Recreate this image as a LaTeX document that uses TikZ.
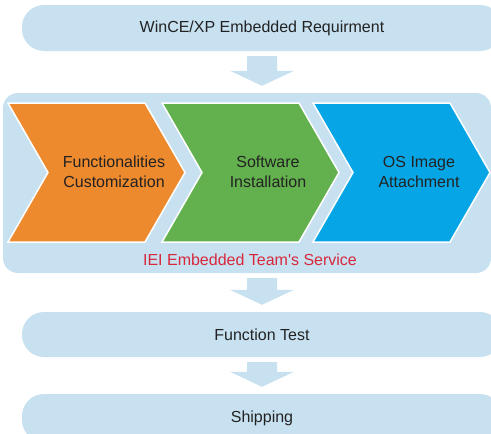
\documentclass[tikz,border=0pt]{standalone}
\usepackage{fontspec}
\setmainfont{Liberation Sans}
\usepackage{tikz}
\usetikzlibrary{calc}

\definecolor{paleblue}{HTML}{C7E1F1}
\definecolor{chevorange}{HTML}{EE8A2E}
\definecolor{chevgreen}{HTML}{63B14E}
\definecolor{chevblue}{HTML}{06A6E6}
\definecolor{servred}{HTML}{D8283C}
\definecolor{textdark}{HTML}{222222}

\tikzset{
    pill/.style={fill=paleblue, rounded corners=22pt, minimum width=480pt,
        inner sep=0pt, text=textdark, font=\fontsize{16}{20}\selectfont},
    chevron/.style={draw=white, line width=1.5pt, line join=miter},
    chevtext/.style={align=center, text=textdark, font=\fontsize{16}{20}\selectfont},
    blockarrow/.style={fill=paleblue}
}

\begin{document}
\begin{tikzpicture}[x=1pt, y=-1pt]
                \useasboundingbox (0,0) rectangle (491,434);
                \clip (0,0) rectangle (491,434);
                \coordinate (mid) at (262,0);

                \node[pill, minimum height=46pt] (req) at (262,28) {WinCE/XP Embedded Requirment};
                \node[fill=paleblue, rounded corners=15pt, minimum width=488pt, minimum height=180pt,
                    inner sep=0pt] (serv) at (247,183) {};
                \node[pill, minimum height=45pt] (test) at (262,334.5) {Function Test};
                \node[pill, minimum height=48pt] (ship) at (262,418) {Shipping};

                % the three service steps
                \foreach \x/\c/\name/\txt in {8/chevorange/fc/{Functionalities\\Customization},
                        162/chevgreen/si/{Software\\Installation},
                        313/chevblue/osi/{OS Image\\Attachment}} {
                    \filldraw[chevron, fill=\c] (\x,103) -- ++(137,0) -- ++(40,69.5) -- ++(-40,69.5)
                        -- ++(-137,0) -- ++(40,-69.5) -- cycle;
                    \node[chevtext] (\name) at (\x+106,172) {\txt};
                }
                \node[text=servred, font=\fontsize{16}{20}\selectfont] (team) at (250,260)
                    {IEI Embedded Team\textquotesingle s Service};

                % block arrows between the stages
                \foreach \a/\b in {req/serv, serv/test, test/ship} {
                    \fill[blockarrow] ($(mid |- \a.south)+(-15,5)$) -- ($(mid |- \a.south)+(15,5)$)
                        -- ($(mid |- \b.north)+(15,-22)$) -- ($(mid |- \b.north)+(32,-22)$)
                        -- ($(mid |- \b.north)+(0,-7)$) -- ($(mid |- \b.north)+(-32,-22)$)
                        -- ($(mid |- \b.north)+(-15,-22)$) -- cycle;
                }
            \end{tikzpicture}
\end{document}
